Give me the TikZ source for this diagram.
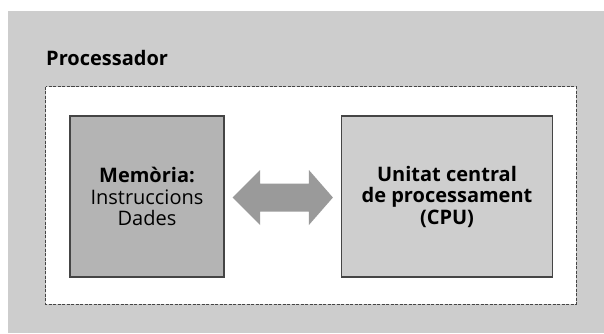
\documentclass[tikz,border=0pt]{standalone}
\usepackage{fontspec}
\setmainfont{Open Sans}
\usetikzlibrary{calc}
\definecolor{bggray}{HTML}{CDCDCD}
\definecolor{memgray}{HTML}{B4B4B4}
\definecolor{cpugray}{HTML}{CECECE}
\definecolor{arrgray}{HTML}{9A9A9A}
\definecolor{edgegray}{HTML}{454545}
\tikzset{
  unitbox/.style={draw=edgegray, line width=1.2pt, inner sep=0pt, align=center, font=\fontsize{20}{21.5}\selectfont},
  frame/.style={draw=edgegray, line width=0.8pt, dash pattern=on 3pt off 1.5pt, fill=white},
  titletext/.style={font=\fontsize{20}{22}\selectfont\bfseries, inner sep=0pt},
  busarrow/.style={fill=arrgray}
}
\begin{document}
\begin{tikzpicture}[x=1pt,y=-1pt]
\useasboundingbox (0,0) rectangle (604,333);
\fill[white] (0,0) rectangle (604,333);
\fill[bggray] (8,11) rectangle (604,333);
\node[titletext, anchor=base west] (proc) at (46,65.5) {Processador};
\draw[frame] (45.5,86.5) rectangle (576,304);
\node[unitbox, fill=memgray, minimum width=154pt, minimum height=161pt] (mem) at (147,196.5)
  {\textbf{Memòria:}\\Instruccions\\Dades};
\node[unitbox, fill=cpugray, minimum width=211pt, minimum height=161pt, font=\fontsize{20}{21.5}\selectfont\bfseries] (cpu) at (447,196.5)
  {Unitat central\\de processament\\(CPU)};
\coordinate (lt) at ($(mem.east)+(8,1)$);
\coordinate (rt) at ($(cpu.west)+(-8,1)$);
\fill[busarrow] (lt) -- ++(27.6,-27.5) -- ++(0,13.5) -- ($(rt)+(-24,-14)$) -- ++(0,-13.5) -- (rt)
  -- ++(-24,27.5) -- ++(0,-13.5) -- ($(lt)+(27.6,14)$) -- ++(0,13.5) -- cycle;
\end{tikzpicture}
\end{document}
